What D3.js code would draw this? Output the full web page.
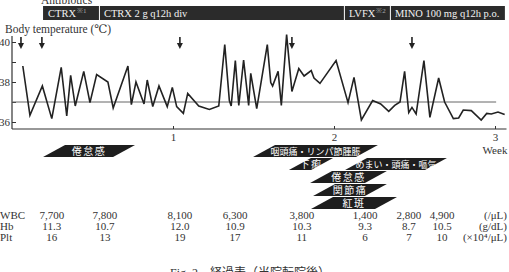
<!DOCTYPE html>
<html>
<head>
	<meta charset="utf-8">
	<script src="https://d3js.org/d3.v7.min.js"></script>
	<style>
		body { margin: 0; background: #fff; }
		text { font-family: "Liberation Serif", "DejaVu Serif", serif; }
	</style>
</head>
<body>
<script>
	// body temperature, x in days after transfer
	var tempDays = [0.47,0.78,1.32,1.73,2.14,2.38,2.55,2.75,3.12,3.39,3.68,4.17,4.40,5.04,5.19,5.39,5.74,5.88,6.12,6.39,6.75,6.97,7.16,7.45,7.64,8.12,8.58,8.99,9.25,9.45,9.53,9.71,9.86,10.07,10.29,10.38,10.64,11.10,11.25,11.33,11.57,11.71,11.94,12.17,12.47,12.70,13.01,13.13,13.39,14.09,14.61,14.87,15.19,15.68,16.03,16.38,16.64,16.87,17.07,17.25,17.39,17.57,17.91,18.17,18.55,18.81,19.19,19.42,19.62,19.97,20.40,20.64,20.84,21.13,21.42]
	var tempValues = [38.8,36.33,37.8,36.17,38.73,36.3,38.33,36.8,38.53,36.97,38.37,38.0,36.7,38.8,36.87,38.0,36.9,38.1,36.77,37.8,36.77,37.73,36.77,36.43,37.43,36.8,36.63,36.8,39.87,37.07,36.8,39.07,36.83,39.1,36.83,38.43,36.67,39.87,37.97,37.8,38.53,36.83,40.37,37.53,38.67,38.3,38.57,38.2,37.93,39.07,36.97,38.23,36.1,37.07,36.9,36.53,36.83,37.0,38.53,36.47,36.73,36.4,39.07,36.23,38.2,37.0,36.17,36.2,36.6,36.57,36.1,36.43,36.4,36.5,36.37]

	var arrowDays = [0.39, 1.3, 7.3, 12.17, 17.39]

	// antibiotics
	var drugNames = ["CTRX", "CTRX 2 g q12h div", "LVFX", "MINO 100 mg q12h p.o."]
	var drugNotes = ["※1", "", "※2", ""]
	var drugStart = [1.35, 3.78, 14.43, 16.43]
	var drugEnd = [3.78, 14.43, 16.43, 21.43]

	// symptoms
	var symptomNames = ["倦怠感", "咽頭痛・リンパ節腫脹", "下痢", "めまい・頭痛・嘔気", "倦怠感", "関節痛", "紅斑"]
	var symptomRow = [0, 0, 1, 1, 2, 3, 4]
	var symptomStart = [1.35, 10.48, 12.04, 14.48, 12.96, 13.09, 13.0]
	var symptomEnd = [5.35, 15.91, 13.96, 18.91, 16.3, 16.3, 16.74]

	// blood tests
	var labDays = [1.73, 4.04, 7.3, 9.7, 12.6, 15.35, 17.26, 18.7]
	var labNames = ["WBC", "Hb", "Plt"]
	var wbc = ["7,700", "7,800", "8,100", "6,300", "3,800", "1,400", "2,800", "4,900"]
	var hb = ["11.3", "10.7", "12.0", "10.9", "10.3", "9.3", "8.7", "10.5"]
	var plt = ["16", "13", "19", "17", "11", "6", "7", "10"]
	var labUnits = ["(/μL)", "(g/dL)", "(×10⁴/μL)"]

	var weekTicks = [1, 2, 3]

	var svg = d3.select("body").append("svg")
		.attr("width", 509)
		.attr("height", 272)

	var x = d3.scaleLinear().domain([0, 21]).range([12, 495])
	var y = d3.scaleLinear().domain([36, 40]).range([122, 42])
	var xWeek = d3.scaleLinear().domain([0, 3]).range([12, 495])
	var axisY = y(35.65)

	// antibiotics bar
	svg.append("text").attr("x", 41).attr("y", 4)
		.style("font-size", "11.5px").attr("fill", "#333").text("Antibiotics")

	drugNames.forEach(function (d, i) {
		var x0 = x(drugStart[i]), x1 = x(drugEnd[i])
		svg.append("rect")
			.attr("x", x0 + (i > 0 ? 1 : 0)).attr("y", 6)
			.attr("width", x1 - x0 - (i > 0 ? 1 : 0)).attr("height", 14)
			.attr("fill", "#2b2b2b")
		var t = svg.append("text").attr("x", x0 + 5).attr("y", 17)
			.style("font-size", "10.5px").attr("fill", "#f2f2f2").text(d)
		if (drugNotes[i]) {
			t.append("tspan").attr("dy", -4).attr("dx", 1)
				.style("font-size", "7px").attr("fill", "#aaa").text(drugNotes[i])
		}
	})

	svg.append("text").attr("x", 5).attr("y", 33)
		.style("font-size", "11.5px").attr("fill", "#333").text("Body temperature (℃)")

	// axes
	var yAxis = d3.axisLeft(y).tickValues([36, 37, 38, 39, 40])
		.tickSizeInner(-4).tickSizeOuter(0).tickPadding(2)
		.tickFormat(function (d) { return d % 2 == 0 ? d : "" })
	var gy = svg.append("g").attr("transform", "translate(12,0)").call(yAxis)
	gy.select(".domain").remove()
	gy.selectAll("line").attr("stroke", "#333")
	gy.selectAll("text").style("font-size", "11px").attr("fill", "#333")
		.style("font-family", "Liberation Serif")

	svg.append("line").attr("x1", 12).attr("x2", 12)
		.attr("y1", 36).attr("y2", axisY).attr("stroke", "#333").attr("stroke-width", 1.2)

	var xAxis = d3.axisBottom(xWeek).tickValues(weekTicks)
		.tickSizeInner(-3).tickSizeOuter(0).tickPadding(4)
		.tickFormat(d3.format("d"))
	var gx = svg.append("g").attr("transform", "translate(0," + axisY + ")").call(xAxis)
	gx.select(".domain").remove()
	gx.selectAll("line").attr("stroke", "#333")
	gx.selectAll("text").style("font-size", "11px").attr("fill", "#333")
		.style("font-family", "Liberation Serif")
	svg.append("line").attr("x1", 12).attr("x2", x(21.5))
		.attr("y1", axisY).attr("y2", axisY).attr("stroke", "#333").attr("stroke-width", 1.2)
	svg.append("text").attr("x", xWeek(3)).attr("y", 154).attr("text-anchor", "middle")
		.style("font-size", "11px").attr("fill", "#333").text("Week")

	// 37 degree reference line
	svg.append("line").attr("x1", 12).attr("x2", x(21.05))
		.attr("y1", y(37)).attr("y2", y(37)).attr("stroke", "#666").attr("stroke-width", 1)

	// temperature line
	var line = d3.line()
		.x(function (d, i) { return x(tempDays[i]) })
		.y(function (d) { return y(d) })
	svg.append("path").datum(tempValues)
		.attr("d", line).attr("fill", "none")
		.attr("stroke", "#222").attr("stroke-width", 1.6)
		.attr("stroke-linejoin", "miter")

	// arrows
	arrowDays.forEach(function (d) {
		var ax = x(d)
		svg.append("line").attr("x1", ax).attr("x2", ax).attr("y1", 37).attr("y2", 44)
			.attr("stroke", "#222").attr("stroke-width", 1.6)
		svg.append("path").attr("d", "M" + (ax - 3) + ",43L" + (ax + 3) + ",43L" + ax + ",49Z")
			.attr("fill", "#222")
	})

	// symptom parallelograms
	var rowTop = 145, rowStep = 13, rowH = 12, slant = 22
	symptomNames.forEach(function (d, i) {
		var x0 = x(symptomStart[i]), x1 = x(symptomEnd[i])
		var top = rowTop + symptomRow[i] * rowStep, bot = top + rowH
		var short = d.length <= 4
		svg.append("path")
			.attr("d", "M" + x0 + "," + bot + "L" + (x0 + slant) + "," + top + "L" + x1 + "," + top +
				"L" + (x1 - slant) + "," + bot + "Z")
			.attr("fill", "#1e1e1e")
		svg.append("text")
			.attr("x", (x0 + x1) / 2).attr("y", bot - 2.3)
			.attr("text-anchor", "middle")
			.style("font-size", short ? "10px" : "9px")
			.style("letter-spacing", short ? "1.5px" : "0px")
			.style("font-family", "Noto Sans CJK JP")
			.attr("fill", "#fff").text(d)
	})

	// lab table
	var labRows = [wbc, hb, plt]
	labRows.forEach(function (row, r) {
		var by = 219 + r * 11
		svg.append("text").attr("x", 0).attr("y", by)
			.style("font-size", "11px").attr("fill", "#333").text(labNames[r])
		row.forEach(function (v, i) {
			svg.append("text").attr("x", x(labDays[i])).attr("y", by)
				.attr("text-anchor", "middle")
				.style("font-size", "11px").attr("fill", "#333").text(v)
		})
		svg.append("text").attr("x", 507).attr("y", by).attr("text-anchor", "end")
			.style("font-size", "11px").attr("fill", "#333").text(labUnits[r])
	})

	// caption
	svg.append("text").attr("x", 170).attr("y", 277)
		.style("font-size", "12px").attr("fill", "#333")
		.text("Fig. 2\u3000")
		.append("tspan").style("font-family", "Noto Sans CJK JP").text("経過表（当院転院後）")
</script>
</body>
</html>
